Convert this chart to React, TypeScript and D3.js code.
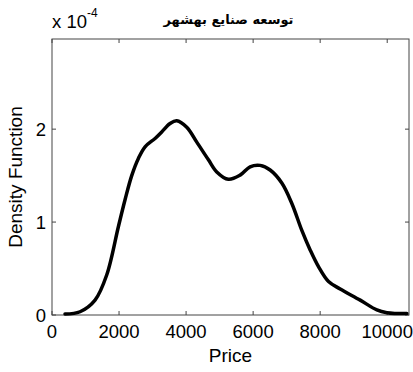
import React, { useEffect, useRef } from "react";
import * as d3 from "d3";

// density curve (price, density in units of 1e-4)
const priceValues = [388, 836, 1284, 1632, 1980, 2179, 2378, 2577, 2776, 3075, 3274, 3522, 3721, 4020, 4319, 4667, 4915, 5262, 5612, 5910, 6209, 6507, 6856, 7155, 7453, 7701, 7950, 8249, 8597, 9194, 9692, 9990, 10587];
const densityValues = [0.01, 0.035, 0.16, 0.43, 0.95, 1.24, 1.5, 1.685, 1.81, 1.9, 1.97, 2.06, 2.09, 2.02, 1.86, 1.67, 1.54, 1.46, 1.505, 1.595, 1.61, 1.56, 1.42, 1.2, 0.91, 0.7, 0.52, 0.36, 0.28, 0.16, 0.054, 0.025, 0.015];
const xTicks = [0, 2000, 4000, 6000, 8000, 10000];
const yTicks = [0, 1, 2];
const titleText = "توسعه صنایع بهشهر";

const W = 413;
const H = 372;
const margin = { top: 39, right: 4, bottom: 57, left: 52 };
const font = "'Liberation Sans', Arial, sans-serif";

export default function App() {
  const ref = useRef<SVGSVGElement>(null);

  useEffect(() => {
    const svg = d3.select(ref.current);
    svg.selectAll("*").remove();

    const x = d3.scaleLinear().domain([0, 10650]).range([margin.left, W - margin.right]);
    const y = d3.scaleLinear().domain([0, 2.97]).range([H - margin.bottom, margin.top]);
    const x0 = x.range()[0], x1 = x.range()[1];
    const y0 = y.range()[0], y1 = y.range()[1];
    const axisColor = "#444";

    svg.append("rect").attr("x", 0).attr("y", 0).attr("width", W).attr("height", H).attr("fill", "#fff");

    // box
    svg.append("rect")
      .attr("x", x0).attr("y", y1)
      .attr("width", x1 - x0).attr("height", y0 - y1)
      .attr("fill", "none").attr("stroke", axisColor).attr("stroke-width", 1);

    const tickLen = 4;
    const g = svg.append("g").attr("stroke", axisColor).attr("stroke-width", 1);
    xTicks.forEach(t => {
      g.append("line").attr("x1", x(t)).attr("x2", x(t)).attr("y1", y0).attr("y2", y0 - tickLen);
      g.append("line").attr("x1", x(t)).attr("x2", x(t)).attr("y1", y1).attr("y2", y1 + tickLen);
    });
    yTicks.forEach(t => {
      g.append("line").attr("x1", x0).attr("x2", x0 + tickLen).attr("y1", y(t)).attr("y2", y(t));
      g.append("line").attr("x1", x1).attr("x2", x1 - tickLen).attr("y1", y(t)).attr("y2", y(t));
    });

    svg.append("g").selectAll("text").data(xTicks).join("text")
      .attr("x", d => x(d)).attr("y", y0 + 23)
      .attr("text-anchor", "middle")
      .attr("font-family", font).attr("font-size", 18.5)
      .text(d => d);

    svg.append("g").selectAll("text").data(yTicks).join("text")
      .attr("x", x0 - 6).attr("y", d => y(d) + 6.5)
      .attr("text-anchor", "end")
      .attr("font-family", font).attr("font-size", 18.5)
      .text(d => d);

    // exponent label
    const ex = svg.append("text").attr("x", x0).attr("y", 28)
      .attr("font-family", font).attr("font-size", 18.5);
    ex.append("tspan").text("x 10");
    ex.append("tspan").attr("dy", -11).attr("font-size", 12).text("-4");

    svg.append("text")
      .attr("x", (x0 + x1) / 2).attr("y", 362)
      .attr("text-anchor", "middle")
      .attr("font-family", font).attr("font-size", 19)
      .text("Price");

    svg.append("text")
      .attr("transform", `translate(22, ${(y0 + y1) / 2}) rotate(-90)`)
      .attr("text-anchor", "middle")
      .attr("font-family", font).attr("font-size", 19)
      .text("Density Function");

    svg.append("text")
      .attr("x", (x0 + x1) / 2 - 2).attr("y", 24)
      .attr("text-anchor", "middle")
      .attr("direction", "rtl")
      .attr("font-family", "'DejaVu Sans', 'Noto Sans', sans-serif")
      .attr("font-weight", "bold").attr("font-size", 13)
      .text(titleText);

    const pts = priceValues.map((p, i) => [p, densityValues[i]] as [number, number]);
    const line = d3.line<[number, number]>()
      .x(d => x(d[0])).y(d => y(d[1]))
      .curve(d3.curveCatmullRom.alpha(0.5));

    svg.append("path")
      .attr("d", line(pts))
      .attr("fill", "none")
      .attr("stroke", "#000")
      .attr("stroke-width", 3.5)
      .attr("stroke-linejoin", "round")
      .attr("stroke-linecap", "round");
  }, []);

  return (
    <svg ref={ref} width={W} height={H} style={{ display: "block", position: "absolute", left: 0, top: 0 }} />
  );
}
